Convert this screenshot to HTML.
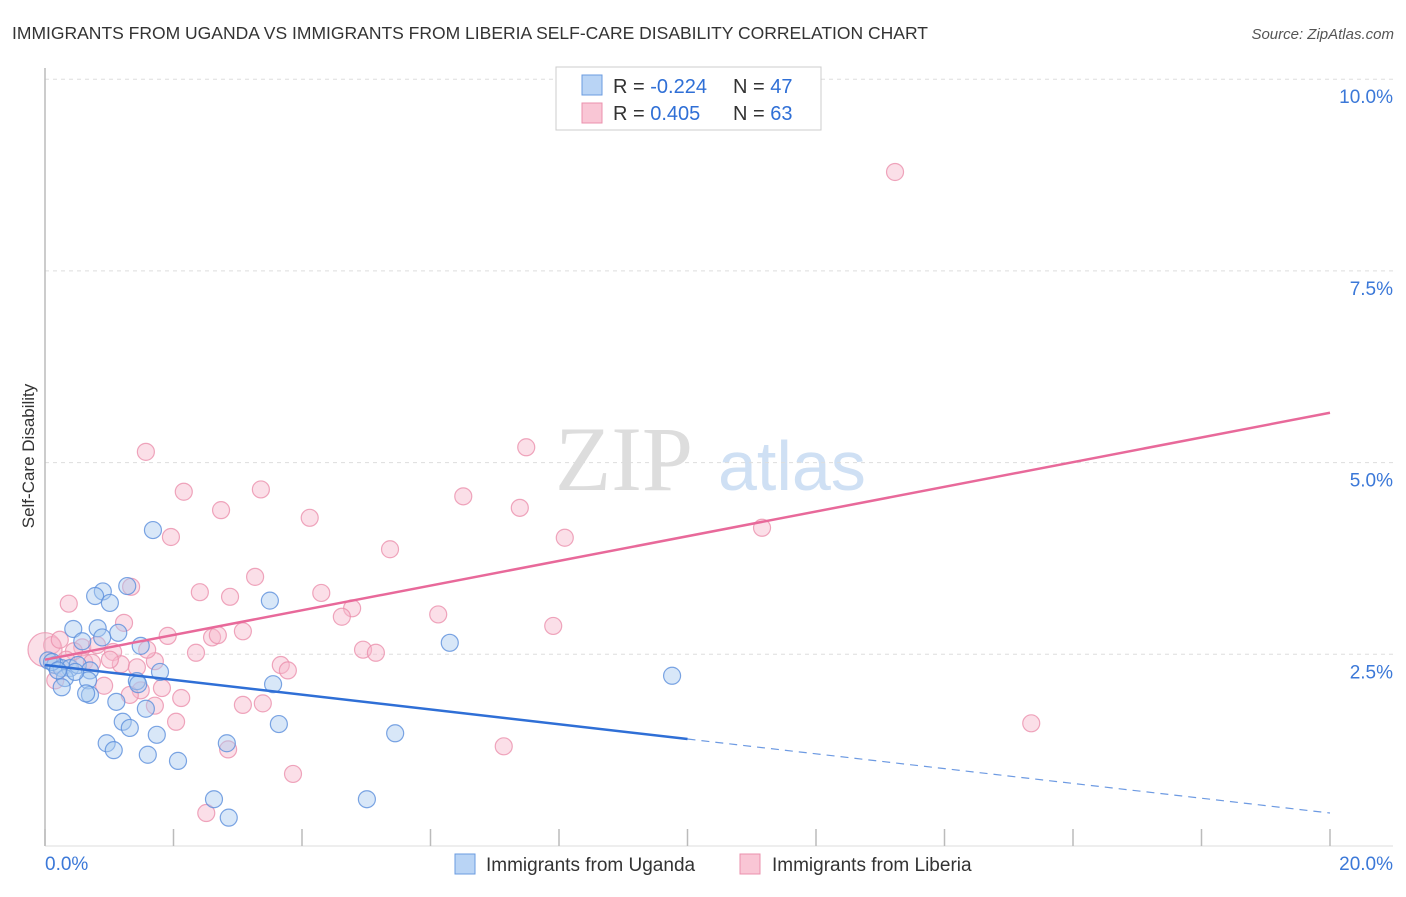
<!DOCTYPE html>
<html><head><meta charset="utf-8"><style>
body{margin:0;background:#fff;font-family:"Liberation Sans",sans-serif;}
svg text{font-family:"Liberation Sans",sans-serif;}
</style></head><body>
<svg id="chart" width="1406" height="892" xmlns="http://www.w3.org/2000/svg">
<text x="12" y="39" font-size="17.5" fill="#333">IMMIGRANTS FROM UGANDA VS IMMIGRANTS FROM LIBERIA SELF-CARE DISABILITY CORRELATION CHART</text>
<text x="1394" y="39" font-size="15" fill="#555" font-style="italic" text-anchor="end">Source: ZipAtlas.com</text>
<text x="34" y="456" font-size="17" fill="#333" transform="rotate(-90 34 456)" text-anchor="middle">Self-Care Disability</text>
<g><text x="555" y="490" font-size="92" fill="#ddd" font-family="Liberation Serif" style="font-family:'Liberation Serif',serif">ZIP</text><text x="718" y="490" font-size="70" fill="#cfe0f4">atlas</text></g>
<g id="grid"></g><g id="axes"></g><g id="pts"></g><g id="trends"></g>
<g>
<rect x="556" y="67" width="265" height="63" fill="#fff" stroke="#ccc"/>
<rect x="582" y="75" width="20" height="20" fill="#b9d4f5" stroke="#6a9be0"/>
<rect x="582" y="103" width="20" height="20" fill="#f9c6d5" stroke="#eb90ad"/>
<text x="613" y="93" font-size="20" fill="#333">R = <tspan fill="#2f6fd6">-0.224</tspan></text>
<text x="733" y="93" font-size="20" fill="#333">N = <tspan fill="#2f6fd6">47</tspan></text>
<text x="613" y="120" font-size="20" fill="#333">R =  <tspan fill="#2f6fd6">0.405</tspan></text>
<text x="733" y="120" font-size="20" fill="#333">N = <tspan fill="#2f6fd6">63</tspan></text>
</g>
<g>
<rect x="455" y="854" width="20" height="20" fill="#b9d4f5" stroke="#6a9be0"/>
<text x="486" y="871" font-size="19" fill="#333">Immigrants from Uganda</text>
<rect x="740" y="854" width="20" height="20" fill="#f9c6d5" stroke="#eb90ad"/>
<text x="772" y="871" font-size="19" fill="#333">Immigrants from Liberia</text>
</g>
</svg>
<script>
const yTicks=[2.5,5.0,7.5,10.0];
const yTickLabels=["2.5%","5.0%","7.5%","10.0%"];
const xTickVals=[0,2,4,6,8,10,12,14,16,18,20];
const ugandaX=[1.68,1.28,0.90,0.78,1.01,3.50,0.44,0.82,1.14,0.89,0.58,1.49,6.30,0.05,0.16,0.26,0.39,0.51,0.70,1.79,0.31,0.67,1.43,1.45,3.55,0.26,0.70,0.64,1.11,1.57,9.76,1.21,1.32,3.64,1.74,0.96,1.07,2.83,5.45,1.60,2.07,2.63,5.01,2.86,0.11,0.20,0.47];
const ugandaY=[4.12,3.39,3.32,3.26,3.17,3.20,2.83,2.84,2.78,2.72,2.67,2.61,2.65,2.42,2.36,2.32,2.32,2.36,2.29,2.27,2.19,2.16,2.15,2.11,2.11,2.07,1.97,1.99,1.88,1.79,2.22,1.62,1.54,1.59,1.45,1.34,1.25,1.34,1.47,1.19,1.11,0.61,0.61,0.37,2.40,2.29,2.27];
const liberiaX=[13.23,1.57,7.49,2.16,3.36,6.51,2.74,7.39,4.12,1.96,5.37,8.09,11.16,3.27,1.34,2.41,2.88,4.30,0.37,4.78,4.62,6.12,1.23,7.91,1.91,2.60,2.69,3.08,0.58,0.81,1.06,2.35,4.95,5.15,0.11,0,0.61,1.18,1.43,1.71,0.73,3.67,3.78,0.45,0.92,1.49,1.82,2.12,3.08,1.71,3.39,2.04,15.35,2.85,7.14,3.86,2.51,0.16,1.32,0.33,1.59,0.23,1.01];
const liberiaY=[8.79,5.14,5.20,4.62,4.65,4.56,4.38,4.41,4.28,4.03,3.87,4.02,4.15,3.51,3.38,3.31,3.25,3.30,3.16,3.10,2.99,3.02,2.91,2.87,2.74,2.72,2.75,2.80,2.59,2.62,2.53,2.52,2.56,2.52,2.62,2.56,2.40,2.37,2.33,2.41,2.39,2.36,2.29,2.54,2.09,2.03,2.06,1.93,1.84,1.83,1.86,1.62,1.60,1.26,1.30,0.94,0.43,2.16,1.97,2.43,2.56,2.69,2.43];
const ugandaTrend=[2.36,-0.0965]; // intercept, slope
const liberiaTrend=[2.43,0.161];
const NS="http://www.w3.org/2000/svg";
const X=v=>45+v/20*1285, Y=v=>846-v/2.5*191.7;
function mk(t,a,p){const e=document.createElementNS(NS,t);for(const k in a)e.setAttribute(k,a[k]);p.appendChild(e);return e;}
const grid=document.getElementById('grid'),axes=document.getElementById('axes'),pts=document.getElementById('pts'),tr=document.getElementById('trends');
yTicks.forEach((v,i)=>{
 const l=mk('line',{x1:45,x2:1393,y1:Y(v),y2:Y(v),stroke:'#ddd','stroke-dasharray':'4,4'},grid);
 
 
 const t=mk('text',{x:1393,y:Y(v)+24,'font-size':19,fill:'#3b78d8','text-anchor':'end'},grid);
 t.textContent=yTickLabels[i];
 
 
});
const ax=mk('line',{x1:45,x2:45,y1:68,y2:846,stroke:'#bbb','stroke-width':1.5},axes);


const xa=mk('line',{x1:45,x2:1393,y1:846,y2:846,stroke:'#ddd'},axes);


xTickVals.forEach(v=>{
 const t=mk('line',{x1:X(v),x2:X(v),y1:829,y2:846,stroke:'#bbb','stroke-width':1.5},axes);
 
 
});
const xl0=mk('text',{x:45,y:870,'font-size':19,fill:'#3b78d8'},axes);xl0.textContent='0.0%';


const xl1=mk('text',{x:1393,y:870,'font-size':19,fill:'#3b78d8','text-anchor':'end'},axes);xl1.textContent='20.0%';


function dots(xs,ys,fill,stroke,name){xs.forEach((x,i)=>{
 const r=(x===0)?17:8.5;
 const c=mk('circle',{cx:X(x),cy:Y(ys[i]),r:r,fill:fill,'fill-opacity':0.45,stroke:stroke,'stroke-opacity':0.8,'stroke-width':1.2},pts);
 
 
});}
dots(liberiaX,liberiaY,'#f6b8cb','#eb90ad','liberia-point');
dots(ugandaX,ugandaY,'#a9c9f0','#5b8fdc','uganda-point');
const f=(t,x)=>t[0]+t[1]*x;
const l1=mk('line',{x1:X(0),y1:Y(f(liberiaTrend,0)),x2:X(20),y2:Y(f(liberiaTrend,20)),stroke:'#e8699a','stroke-width':2.5},tr);


const l2=mk('line',{x1:X(0),y1:Y(f(ugandaTrend,0)),x2:X(10),y2:Y(f(ugandaTrend,10)),stroke:'#2f6fd6','stroke-width':2.5},tr);


const l3=mk('line',{x1:X(10),y1:Y(f(ugandaTrend,10)),x2:X(20),y2:Y(f(ugandaTrend,20)),stroke:'#2f6fd6','stroke-width':1.2,'stroke-dasharray':'8,6','stroke-opacity':0.7},tr);


</script>
</body></html>
